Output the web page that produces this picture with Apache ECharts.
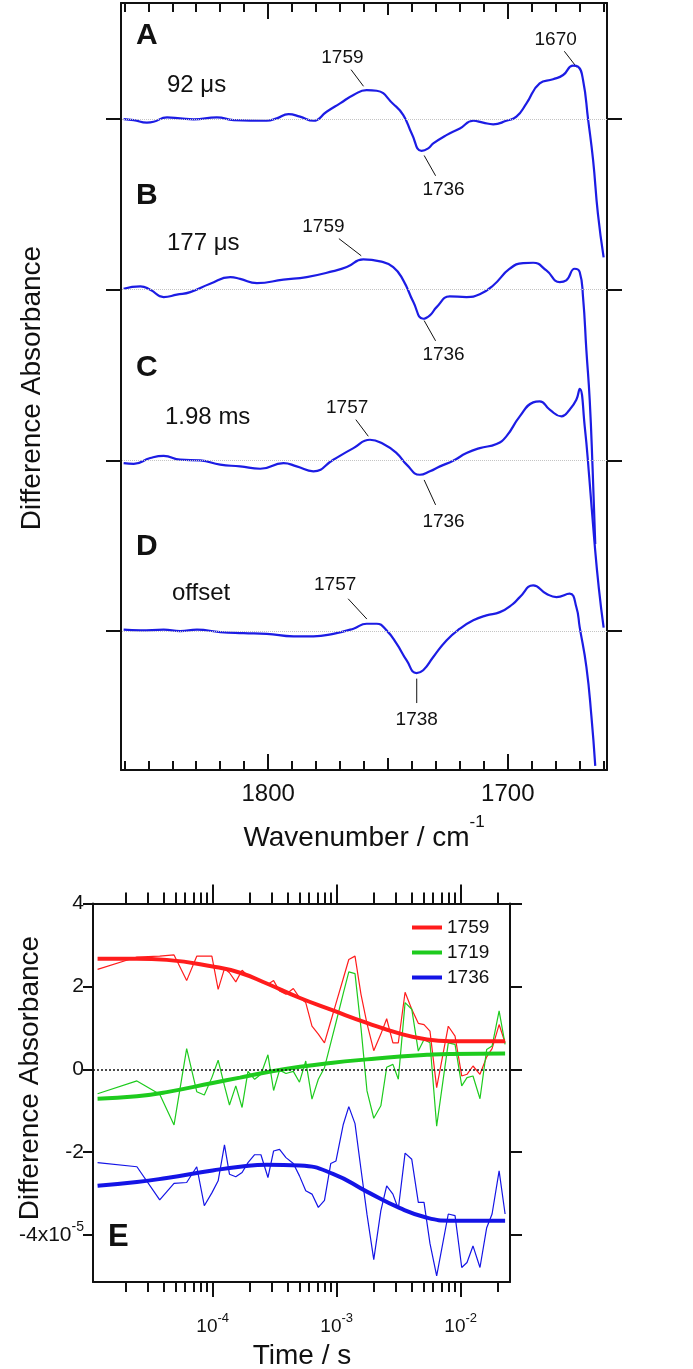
<!DOCTYPE html>
<html>
<head>
<meta charset="utf-8">
<script src="https://cdn.jsdelivr.net/npm/echarts@6/dist/echarts.min.js"></script>
<style>
  html, body { margin: 0; padding: 0; background: #fff; }
  #main { width: 693px; height: 1369px; }
</style>
</head>
<body>
<div id="main"></div>
<script>
// ---- spectra A-D (wavenumber / cm-1, difference absorbance, arb. units, offset added below)
const wnA = [1860.3, 1856.1, 1850.6, 1847.8, 1842.2, 1836.7, 1831.1, 1821.4, 1814.4, 1800.6, 1796.4, 1791.5, 1786.7, 1781.1, 1775.6, 1770, 1764.4, 1758.9, 1754.7, 1747.8, 1743.6, 1740.1, 1736, 1733.2, 1731.1, 1725.6, 1720, 1714.4, 1710.3, 1706.1, 1700.6, 1696.4, 1692.2, 1686.7, 1681.1, 1676.9, 1672.8, 1670.7, 1668.6, 1666.5, 1664.4, 1662.4, 1660];
const absA = [0, -0.06, -0.21, -0.16, 0.10, 0.04, -0.02, 0.10, -0.06, -0.10, 0.04, 0.29, 0.14, -0.10, 0.43, 0.92, 1.41, 1.70, 1.66, 0.88, 0.23, -0.84, -1.86, -1.72, -1.43, -0.94, -0.55, -0.10, -0.21, -0.31, -0.10, 0.14, 0.92, 2.09, 2.33, 2.58, 3.13, 3.07, 2.29, 0, -2.41, -5.54, -8.1];

const wnB = [1860.3, 1853.3, 1849.2, 1843.6, 1838.1, 1832.5, 1824.2, 1815.8, 1811.7, 1804.7, 1793.6, 1783.9, 1772.8, 1767.2, 1760.3, 1753.3, 1747.8, 1743.6, 1739.4, 1735.3, 1732.5, 1729.7, 1724.2, 1717.2, 1711.7, 1706.1, 1699.2, 1693.6, 1689.4, 1683.9, 1678.3, 1675.6, 1672.1, 1670, 1668.6, 1667.2, 1665.8, 1664.6, 1663.5];
const absB = [0.06, 0.20, 0, -0.43, -0.29, -0.14, 0.35, 0.74, 0.64, 0.39, 0.59, 0.74, 1.09, 1.33, 1.78, 1.66, 1.33, 0.55, -0.72, -1.70, -1.50, -1.02, -0.39, -0.43, -0.27, 0.25, 1.23, 1.56, 1.58, 1.13, 0.45, 0.55, 1.23, 1.04, -0.43, -3.55, -6.5, -10.5, -14.9];

const wnC = [1860.3, 1856.1, 1849.2, 1843.6, 1836.7, 1828.3, 1820, 1811.7, 1803.3, 1793.6, 1788.1, 1781.1, 1772.8, 1764.4, 1757.5, 1751.9, 1746.4, 1742.2, 1736.7, 1732.5, 1728.3, 1722.8, 1717.2, 1711.7, 1704.7, 1700.6, 1695, 1689.4, 1686.7, 1682.5, 1677.6, 1674.2, 1671.4, 1670, 1667.9, 1666, 1664, 1662, 1660];
const absC = [-0.16, -0.20, 0.14, 0.27, 0.04, 0, -0.25, -0.35, -0.49, -0.16, -0.35, -0.64, 0.04, 0.72, 1.21, 0.96, 0.43, -0.25, -0.84, -0.64, -0.35, -0.02, 0.43, 0.72, 0.96, 1.41, 2.58, 3.40, 3.46, 2.97, 2.58, 2.97, 3.55, 4.19, 2.0, -1.0, -4.5, -7.5, -9.8];

const wnD = [1860.3, 1853.3, 1843.6, 1836.7, 1829.7, 1820, 1810.3, 1800.6, 1789.4, 1781.1, 1772.8, 1764.4, 1758.9, 1754.7, 1750.6, 1746.4, 1742.2, 1738.1, 1735.3, 1731.1, 1725.6, 1720, 1714.4, 1708.9, 1703.3, 1697.8, 1695, 1689.4, 1683.9, 1679.7, 1674.2, 1671.4, 1670, 1667.2, 1665.1, 1663.5];
const absD = [0.08, 0.04, 0.08, 0, 0.08, -0.06, -0.12, -0.16, -0.31, -0.31, -0.16, 0.14, 0.43, 0.43, 0.04, -0.74, -1.72, -2.46, -2.30, -1.52, -0.55, 0.14, 0.63, 0.92, 1.11, 1.60, 1.99, 2.68, 2.19, 1.99, 2.19, 1.41, 0.23, -2.1, -5.0, -7.9];

const traceOffsets = [30, 20, 10, 0];
const traceLetters = ['A', 'B', 'C', 'D'];
const traceDelays = ['92 μs', '177 μs', '1.98 ms', 'offset'];
const wnMajorTicks = [1700, 1800];
const wnMidTicks = [1750];

// peak labels: trace index and wavenumber
const peakTrace = [0, 0, 0, 1, 1, 2, 2, 3, 3];
const peakWn = [1759, 1736, 1670, 1759, 1736, 1757, 1736, 1757, 1738];

// ---- kinetics E (time / s, difference absorbance x1e-5)
const timeS = [1.18e-5, 2.45e-5, 3.74e-5, 4.88e-5, 6.17e-5, 7.44e-5, 8.56e-5, 9.85e-5, 1.107e-4, 1.245e-4, 1.366e-4, 1.536e-4, 1.726e-4, 1.926e-4, 2.18e-4, 2.45e-4, 2.79e-4, 3.10e-4, 3.46e-4, 3.90e-4, 4.47e-4, 5.01e-4, 5.63e-4, 6.32e-4, 7.11e-4, 7.97e-4, 8.96e-4, 9.87e-4, 1.13e-3, 1.252e-3, 1.405e-3, 1.57e-3, 1.755e-3, 1.99e-3, 2.27e-3, 2.53e-3, 2.84e-3, 3.14e-3, 3.56e-3, 4.03e-3, 4.55e-3, 5.06e-3, 5.65e-3, 6.40e-3, 7.94e-3, 9.0e-3, 1.019e-2, 1.124e-2, 1.256e-2, 1.43e-2, 1.62e-2, 1.79e-2, 2.04e-2, 2.28e-2];
const kin1759 = [2.41, 2.71, 2.73, 2.76, 2.14, 2.73, 2.73, 2.73, 1.93, 2.43, 2.33, 2.11, 2.39, 2.25, 2.19, 2.14, 2.05, 2.14, 1.89, 1.81, 1.95, 1.73, 1.61, 1.04, 0.85, 0.64, 1.16, 1.59, 2.19, 2.65, 2.73, 1.81, 1.10, 0.45, 0.85, 1.22, 0.64, 0.64, 1.86, 1.45, 1.11, 1.08, 0.92, -0.44, 1.04, 0.80, -0.16, -0.12, 0.08, -0.12, 0.30, 0.50, 1.08, 0.64];
const kin1719 = [-0.59, -0.28, -0.60, -1.34, 0.50, -0.54, -0.62, -0.20, 0.22, -0.40, -0.86, -0.40, -0.92, -0.05, -0.24, -0.12, 0.35, -0.51, -0.02, -0.10, -0.05, -0.31, 0.20, -0.72, -0.24, 0.04, 0.64, 1.13, 1.83, 2.35, 2.31, 1.00, -0.52, -1.18, -0.88, 0.05, 0.12, -0.24, 1.61, 1.45, 0.44, 0.72, 0.64, -1.37, 0.64, 0.60, -0.40, -0.20, -0.16, -0.71, 0.48, 0.56, 1.41, 0.60];
const kin1736 = [-2.25, -2.35, -3.15, -2.75, -2.73, -2.35, -3.29, -2.98, -2.69, -1.82, -2.53, -2.59, -2.49, -2.25, -2.06, -2.06, -2.61, -1.97, -1.93, -2.13, -2.27, -2.57, -2.93, -3.01, -3.33, -3.16, -2.27, -2.21, -1.33, -0.90, -1.31, -2.41, -3.50, -4.59, -3.41, -2.81, -3.01, -3.37, -2.02, -2.17, -3.21, -3.21, -4.20, -4.98, -3.49, -3.53, -4.78, -4.66, -4.26, -4.78, -3.82, -3.49, -2.45, -3.49];

const fitTime = [1.18e-5, 2.45e-5, 4.26e-5, 1.0e-4, 1.66e-4, 2.73e-4, 5.06e-4, 9.33e-4, 1.75e-3, 3.24e-3, 5.35e-3, 8.2e-3, 2.28e-2];
const fit1759 = [2.67, 2.67, 2.64, 2.48, 2.33, 2.07, 1.72, 1.42, 1.12, 0.86, 0.72, 0.68, 0.68];
const fit1719 = [-0.71, -0.65, -0.55, -0.33, -0.20, -0.07, 0.06, 0.16, 0.24, 0.31, 0.35, 0.37, 0.38];
const fit1736 = [-2.81, -2.72, -2.62, -2.44, -2.35, -2.30, -2.32, -2.52, -2.95, -3.35, -3.58, -3.65, -3.65];

const kinNames = ['1759', '1719', '1736'];
const timeMajorTicks = [1e-4, 1e-3, 1e-2];
const absTicks = [-4, -2, 0, 2, 4];

// ---- styling
const FONT = '"Liberation Sans", Arial, sans-serif';
const INK = '#111';
const SPEC_BLUE = '#1c1ce4';
const KIN_COLORS = ['#ff1c1c', '#1ecb1e', '#1414e6'];

const chart = echarts.init(document.getElementById('main'));

const wnMin = 1658.6, wnMax = 1861.4;
const tMin = 1.084e-5, tMax = 2.497e-2;

let wnMinorTicks = [];
for (let w = 1660; w <= 1860; w += 10) {
  if (wnMajorTicks.indexOf(w) < 0 && wnMidTicks.indexOf(w) < 0) wnMinorTicks.push(w);
}
let timeMinorTicks = [];
for (let d = -5; d <= -2; d++) {
  for (let m = 2; m <= 9; m++) {
    const v = m * Math.pow(10, d);
    if (v > tMin && v < tMax) timeMinorTicks.push(v);
  }
}

function wnAxis(position, ticks, len, withLine, withLabel) {
  return {
    type: 'value', gridIndex: 0, position: position, inverse: true, min: wnMin, max: wnMax,
    axisLine: { show: withLine, onZero: false, lineStyle: { color: INK, width: 2 } },
    axisTick: { show: true, inside: true, length: len, customValues: ticks, lineStyle: { color: INK, width: 2 } },
    axisLabel: withLabel ? {
      show: true, customValues: ticks, margin: 12, fontSize: 24, color: INK, fontFamily: FONT,
      formatter: v => String(v)
    } : { show: false },
    splitLine: { show: false }
  };
}

function timeAxis(position, ticks, len, withLine, withLabel) {
  return {
    type: 'log', logBase: 10, gridIndex: 1, position: position, min: tMin, max: tMax,
    axisLine: { show: withLine, onZero: false, lineStyle: { color: INK, width: 2 } },
    axisTick: { show: true, inside: false, length: len, customValues: ticks, lineStyle: { color: INK, width: 2 } },
    axisLabel: withLabel ? {
      show: true, customValues: ticks, margin: 30, fontSize: 19, color: INK, fontFamily: FONT,
      formatter: v => '{b|10}{sup|' + Math.round(Math.log10(v)) + '}',
      rich: {
        b: { fontSize: 19, lineHeight: 29, color: INK, fontFamily: FONT },
        sup: { fontSize: 13, lineHeight: 14, verticalAlign: 'top', color: INK, fontFamily: FONT }
      }
    } : { show: false },
    splitLine: { show: false },
    minorTick: { show: false }
  };
}

function offsetAxis(position) {
  return {
    type: 'value', gridIndex: 0, position: position, min: -8.14, max: 36.8,
    axisLine: { show: true, onZero: false, lineStyle: { color: INK, width: 2 } },
    axisTick: { show: true, inside: false, length: 15, customValues: traceOffsets, lineStyle: { color: INK, width: 2 } },
    axisLabel: { show: false },
    splitLine: { show: false }
  };
}

function absAxis(position, len, withLabel) {
  return {
    type: 'value', gridIndex: 1, position: position, min: -5.13, max: 4,
    axisLine: { show: true, onZero: false, lineStyle: { color: INK, width: 2 } },
    axisTick: { show: true, inside: false, length: len, customValues: absTicks, lineStyle: { color: INK, width: 2 } },
    axisLabel: withLabel ? {
      show: true, customValues: absTicks, margin: 9, fontSize: 21, color: INK, fontFamily: FONT,
      formatter: v => v === -4 ? '{b|-4x10}{sup|-5}' : '{b|' + v + '}',
      rich: {
        b: { fontSize: 21, lineHeight: 31, color: INK, fontFamily: FONT },
        sup: { fontSize: 14, lineHeight: 15, verticalAlign: 'top', color: INK, fontFamily: FONT }
      }
    } : { show: false },
    splitLine: { show: false }
  };
}

const spectra = [[wnA, absA], [wnB, absB], [wnC, absC], [wnD, absD]];

const spectraSeries = spectra.map((tr, k) => ({
  type: 'line', xAxisIndex: 0, yAxisIndex: 0,
  data: tr[0].map((w, i) => [w, tr[1][i] + traceOffsets[k]]),
  smooth: 0.5, showSymbol: false, symbol: 'none', silent: true,
  lineStyle: { color: SPEC_BLUE, width: 2.2 },
  z: 3,
  markLine: {
    silent: true, symbol: ['none', 'none'], label: { show: false }, animation: false,
    lineStyle: { color: '#c4c4c4', type: 'dotted', width: 1 },
    data: [{ yAxis: traceOffsets[k] }]
  }
}));

const kinRaw = [kin1759, kin1719, kin1736];
const kinFit = [fit1759, fit1719, fit1736];

const rawSeries = kinRaw.map((vals, k) => ({
  name: kinNames[k], type: 'line', xAxisIndex: 6, yAxisIndex: 2,
  data: timeS.map((t, i) => [t, vals[i]]),
  showSymbol: false, symbol: 'none', silent: true,
  color: KIN_COLORS[k],
  lineStyle: { color: KIN_COLORS[k], width: 1.2 },
  z: 3,
  markLine: k === 0 ? {
    silent: true, symbol: ['none', 'none'], label: { show: false }, animation: false,
    lineStyle: { color: INK, type: [2, 2], width: 1.5 },
    data: [{ yAxis: 0 }]
  } : undefined
}));

const fitSeries = kinFit.map((vals, k) => ({
  name: kinNames[k], type: 'line', xAxisIndex: 6, yAxisIndex: 2,
  data: fitTime.map((t, i) => [t, vals[i]]),
  smooth: true, showSymbol: false, symbol: 'none', silent: true,
  color: KIN_COLORS[k],
  lineStyle: { color: KIN_COLORS[k], width: 4 },
  z: 4
}));

const option = {
  animation: false,
  backgroundColor: '#fff',
  textStyle: { fontFamily: FONT, color: INK },
  grid: [
    { left: 121, top: 3, width: 486, height: 767, outerBoundsMode: 'none' },
    { left: 93, top: 903.5, width: 417, height: 378.5, outerBoundsMode: 'none' }
  ],
  xAxis: [
    wnAxis('bottom', wnMajorTicks, 16, true, true),
    wnAxis('bottom', wnMinorTicks, 9, false, false),
    wnAxis('bottom', wnMidTicks, 12, false, false),
    wnAxis('top', wnMajorTicks, 16, true, false),
    wnAxis('top', wnMinorTicks, 9, false, false),
    wnAxis('top', wnMidTicks, 12, false, false),
    timeAxis('bottom', timeMajorTicks, 15, true, true),
    timeAxis('bottom', timeMinorTicks, 10, false, false),
    timeAxis('top', timeMajorTicks, 19, true, false),
    timeAxis('top', timeMinorTicks, 11, false, false)
  ],
  yAxis: [
    offsetAxis('left'),
    offsetAxis('right'),
    absAxis('left', 10, true),
    absAxis('right', 12, false)
  ],
  legend: {
    data: kinNames, orient: 'vertical', left: 407, top: 913,
    icon: 'rect', itemWidth: 30, itemHeight: 4, itemGap: 6,
    selectedMode: false,
    textStyle: { fontSize: 19, color: INK, fontFamily: FONT }
  },
  series: spectraSeries.concat(rawSeries, fitSeries)
};

chart.setOption(option);

// ---- text annotations (titles, panel letters, peak labels)
function valueAt(wns, vals, w) {
  for (let i = 0; i < wns.length - 1; i++) {
    if (w <= wns[i] && w >= wns[i + 1]) {
      const f = (wns[i] - w) / (wns[i] - wns[i + 1]);
      return vals[i] + f * (vals[i + 1] - vals[i]);
    }
  }
  return 0;
}

function txt(x, y, text, size, extra) {
  return {
    type: 'text', x: x, y: y, silent: true,
    style: Object.assign({
      text: text, fontSize: size, fontFamily: FONT, fill: INK,
      align: 'center', verticalAlign: 'middle', textAlign: 'center', textVerticalAlign: 'middle'
    }, extra || {})
  };
}

const graphics = [];

// axis titles
graphics.push(Object.assign(txt(32, 388, 'Difference Absorbance', 28), { rotation: Math.PI / 2 }));
graphics.push(Object.assign(txt(30, 1078, 'Difference Absorbance', 28), { rotation: Math.PI / 2 }));
graphics.push(txt(364, 838, '{b|Wavenumber / cm}{sup|-1}', 28, {
  rich: {
    b: { fontSize: 28, lineHeight: 49, fontFamily: FONT, fill: INK },
    sup: { fontSize: 17, lineHeight: 17, verticalAlign: 'top', fontFamily: FONT, fill: INK }
  }
}));
graphics.push(txt(302, 1356, 'Time / s', 28));

// panel letters and delay labels
const letterY = [36, 196, 368, 547];
const delayPos = [[167, 85], [167, 243], [165, 417], [172, 593]];
traceLetters.forEach((L, k) => {
  graphics.push(txt(136, letterY[k], L, 30, { fontWeight: 'bold', align: 'left', textAlign: 'left' }));
  graphics.push(txt(delayPos[k][0], delayPos[k][1], traceDelays[k], 24, { align: 'left', textAlign: 'left' }));
});
graphics.push(txt(108, 1237, 'E', 31, { fontWeight: 'bold', align: 'left', textAlign: 'left' }));

// peak labels with leader lines, placed relative to the trace
const peakLabelShift = [[-24, -32], [22, 39], [-24, -31], [-43, -33], [22, 39], [-24, -32], [22, 48], [-36, -39], [0, 47]];
peakWn.forEach((w, i) => {
  const k = peakTrace[i];
  const v = valueAt(spectra[k][0], spectra[k][1], w) + traceOffsets[k];
  const p = chart.convertToPixel({ xAxisIndex: 0, yAxisIndex: 0 }, [w, v]);
  const d = peakLabelShift[i];
  graphics.push({
    type: 'line', silent: true,
    shape: { x1: p[0] + d[0] * 0.12, y1: p[1] + d[1] * 0.12, x2: p[0] + d[0] * 0.64, y2: p[1] + d[1] * 0.64 },
    style: { stroke: INK, lineWidth: 1 }
  });
  graphics.push(txt(p[0] + d[0], p[1] + d[1], String(w), 19));
});

chart.setOption({ graphic: graphics });
</script>
</body>
</html>
